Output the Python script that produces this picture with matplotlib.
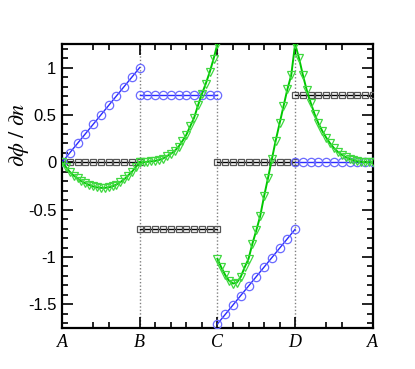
import numpy as np
import matplotlib
matplotlib.use('Agg')
import matplotlib.pyplot as plt
from matplotlib.ticker import MultipleLocator, FixedLocator

plt.rcParams['mathtext.fontset'] = 'stix'

# position along each side (0..1), A-B, B-C, C-D, D-A
t_coarse = [0.0, 0.1, 0.2, 0.3, 0.4, 0.5, 0.6, 0.7, 0.8, 0.9, 1.0]
t_fine = [0.0, 0.05, 0.1, 0.15, 0.2, 0.25, 0.3, 0.35, 0.4, 0.45, 0.5,
          0.55, 0.6, 0.65, 0.7, 0.75, 0.8, 0.85, 0.9, 0.95, 1.0]

blue_ab = [0.0, 0.1, 0.2, 0.3, 0.4, 0.5, 0.6, 0.7, 0.8, 0.9, 1.0]
blue_bc = [0.707] * 11
blue_cd = [-1.707, -1.607, -1.507, -1.407, -1.307, -1.207, -1.107, -1.007, -0.907, -0.807, -0.707]
blue_da = [0.0] * 11

black_ab = [0.0] * 11
black_bc = [-0.707] * 11
black_cd = [0.0] * 11
black_da = [0.707] * 11

green_ab = [0.0, -0.05, -0.10, -0.14, -0.17, -0.20, -0.22, -0.24, -0.255, -0.265, -0.27,
            -0.27, -0.265, -0.255, -0.235, -0.21, -0.18, -0.14, -0.10, -0.05, 0.0]
green_bc = [0.0, 0.0, 0.005, 0.01, 0.015, 0.025, 0.04, 0.065, 0.09, 0.12, 0.165,
            0.225, 0.29, 0.38, 0.47, 0.6, 0.72, 0.83, 0.95, 1.09, 1.25]
green_cd = [-1.02, -1.11, -1.19, -1.25, -1.28, -1.27, -1.21, -1.11, -1.02, -0.86, -0.72,
            -0.57, -0.36, -0.17, 0.03, 0.23, 0.41, 0.59, 0.77, 0.92, 1.25]
green_da = [1.25, 1.1, 0.92, 0.76, 0.63, 0.51, 0.41, 0.33, 0.26, 0.2, 0.15,
            0.11, 0.08, 0.055, 0.035, 0.02, 0.01, 0.005, 0.0, 0.0, 0.0]

side_labels = ['A', 'B', 'C', 'D', 'A']

fig = plt.figure(figsize=(4.15, 3.69), dpi=100)
ax = fig.add_axes([0.1494, 0.111, 0.749, 0.770])

for i in range(1, 4):
    ax.axvline(i, color='#808080', linestyle=(0, (1, 1.5)), linewidth=1.0, zorder=1)

blue = [blue_ab, blue_bc, blue_cd, blue_da]
black = [black_ab, black_bc, black_cd, black_da]
green = [green_ab, green_bc, green_cd, green_da]

for k in range(4):
    xc = np.array(t_coarse) + k
    xf = np.array(t_fine) + k
    ax.plot(xc, black[k], color='black', linewidth=1.0, marker='s', markersize=5,
            markerfacecolor='none', markeredgecolor='#555555', markeredgewidth=0.9, zorder=3)
    ax.plot(xc, blue[k], color='#2a2aff', linewidth=1.0, marker='o', markersize=6,
            markerfacecolor='none', markeredgecolor='#6a6aff', markeredgewidth=0.9, zorder=4)
    ax.plot(xf, green[k], color='#00c800', linewidth=1.4, marker='v', markersize=6,
            markerfacecolor='none', markeredgecolor='#40d840', markeredgewidth=0.9, zorder=5)

ax.set_xlim(0, 4)
ax.set_ylim(-1.75, 1.25)
ax.set_xticks([0, 1, 2, 3, 4])
ax.set_xticklabels(side_labels, fontfamily='Liberation Serif', fontstyle='italic', fontsize=13)
ax.xaxis.set_minor_locator(FixedLocator([0.4, 0.6, 1.2, 1.4, 1.6, 1.8, 2.2, 2.4, 2.6, 2.8, 3.4, 3.6]))
ax.yaxis.set_major_locator(MultipleLocator(0.5))
ax.yaxis.set_minor_locator(MultipleLocator(0.1))
ax.set_yticks([-1.5, -1, -0.5, 0, 0.5, 1])
ax.set_yticklabels(['-1.5', '-1', '-0.5', '0', '0.5', '1'], fontfamily='Liberation Sans', fontsize=12)

ax.tick_params(which='both', direction='in', top=True, right=True, width=1.2)
ax.tick_params(which='major', length=8, pad=4)
ax.tick_params(which='minor', length=4)
for s in ax.spines.values():
    s.set_linewidth(1.6)

ax.set_ylabel(r'$\partial\phi\ /\ \partial n$', fontsize=16)
ax.yaxis.set_label_coords(-0.1, 0.68)

fig.savefig('out.png', dpi=100)
